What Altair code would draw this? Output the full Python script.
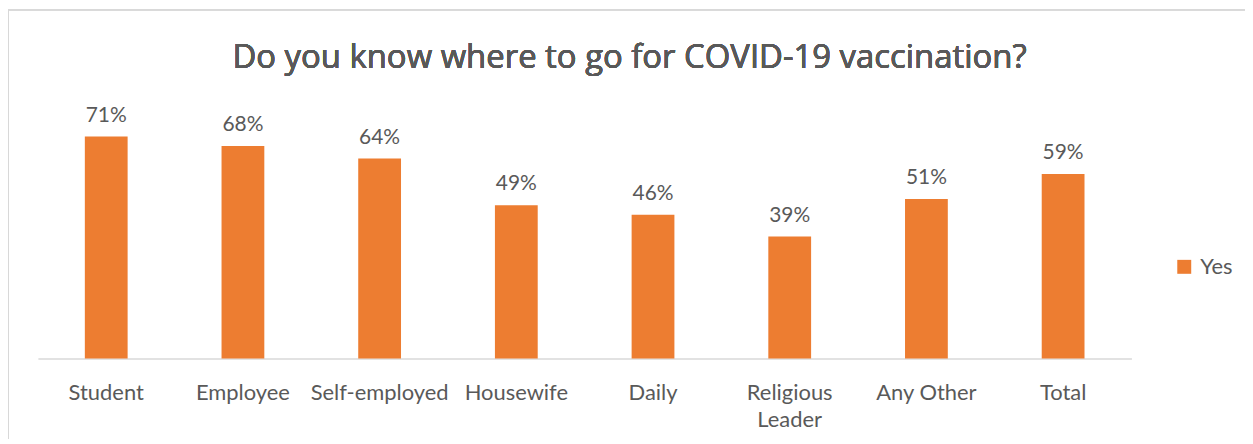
import altair as alt
import pandas as pd

categories = ["Student", "Employee", "Self-employed", "Housewife", "Daily",
              "Religious Leader", "Any Other", "Total"]
values = [0.71, 0.68, 0.64, 0.49, 0.46, 0.39, 0.51, 0.59]
series = "Yes"

df = pd.DataFrame({"category": categories, "value": values, "series": [series] * len(categories)})

W, H = 1098, 251
FONT = "Lato"
TXT = "#595959"

x = alt.X("category:N", sort=categories,
          scale=alt.Scale(paddingInner=0.687, paddingOuter=0.3435),
          axis=alt.Axis(title=None, labelAngle=0, labelFont=FONT, labelFontSize=22,
                        labelColor=TXT, labelPadding=24, labelBaseline="top",
                        labelLineHeight=27, ticks=False, domainColor="#d9d9d9",
                        domainWidth=1.5,
                        labelExpr="datum.label == 'Religious Leader' ? ['Religious', 'Leader'] : datum.label"))
y = alt.Y("value:Q", scale=alt.Scale(domain=[0, 0.8], nice=False),
          axis=None)

bars = alt.Chart(df).mark_bar().encode(
    x=x, y=y,
    color=alt.Color("series:N", scale=alt.Scale(range=["#ED7D31"]),
                    legend=alt.Legend(title=None, orient="none", legendX=1140, legendY=148,
                                      symbolType="square", symbolSize=196, symbolStrokeWidth=0,
                                      labelFont=FONT, labelFontSize=22, labelColor=TXT,
                                      padding=0, labelOffset=5)),
)

labels = alt.Chart(df).mark_text(font=FONT, fontSize=21, color=TXT, baseline="alphabetic", dy=-15).encode(
    x=alt.X("category:N", sort=categories), y=y, text=alt.Text("value:Q", format=".0%")
)

title = alt.Chart(df).mark_text(font="Open Sans", fontSize=33, fontWeight=400, color=TXT,
                                baseline="alphabetic", align="center", clip=False).encode(
    x=alt.value(594), y=alt.value(-41),
    text=alt.value("Do you know where to go for COVID-19 vaccination?")
)

border_top = alt.Chart(df).mark_rule(color="#d9d9d9", strokeWidth=1.5, clip=False).encode(
    x=alt.value(-30), x2=alt.value(1215), y=alt.value(-99)
)
border_left = alt.Chart(df).mark_rule(color="#d9d9d9", strokeWidth=1.5, clip=False).encode(
    x=alt.value(-30), y=alt.value(-99), y2=alt.value(340)
)

chart = alt.layer(border_top, border_left, bars, labels, title).properties(
    width=W, height=H,
    padding={"left": 30, "top": 100, "right": 114, "bottom": 80},
    autosize=alt.AutoSizeParams(type="none"),
).configure_view(stroke=None)

chart.save("out.html", embed_options={"renderer": "svg", "actions": False})
